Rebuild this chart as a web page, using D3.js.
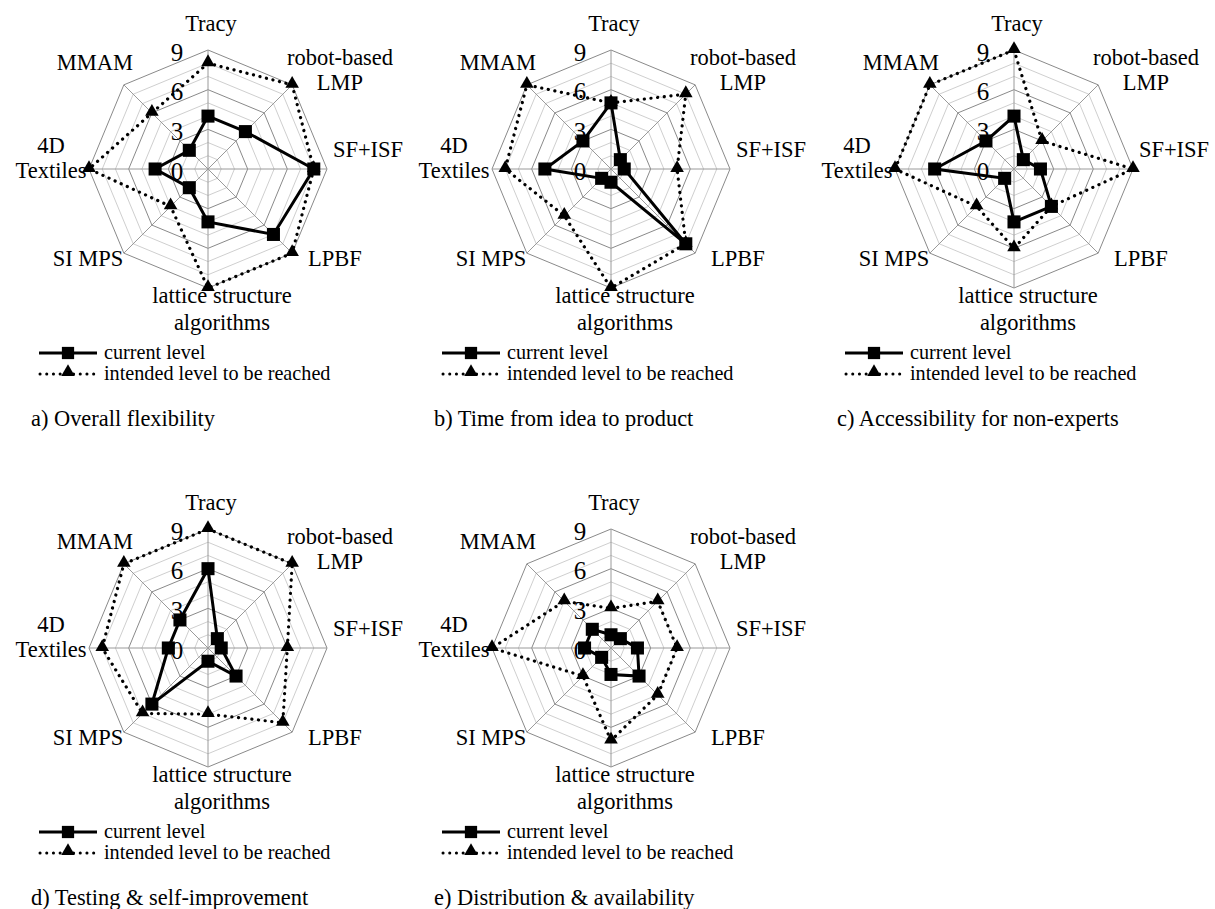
<!DOCTYPE html>
<html><head><meta charset="utf-8">
<script src="https://cdn.jsdelivr.net/npm/d3@7"></script>
<style>body{margin:0;background:#fff}</style>
</head><body><svg id="c" width="1215" height="909"></svg>
<script>
const categories = ["Tracy", "robot-based LMP", "SF+ISF", "LPBF", "lattice structure algorithms", "SI MPS", "4D Textiles", "MMAM"];
const categoryLines = [["Tracy"], ["robot-based", "LMP"], ["SF+ISF"], ["LPBF"], ["lattice structure", "algorithms"], ["SI MPS"], ["4D", "Textiles"], ["MMAM"]];
const tickValues = [0, 3, 6, 9];
const seriesNames = ["current level", "intended level to be reached"];
const panelTitles = ["a) Overall flexibility", "b) Time from idea to product", "c) Accessibility for non-experts", "d) Testing & self-improvement", "e) Distribution & availability"];
const currentA = [4, 4, 8, 7, 4, 2, 4, 2];
const intendedA = [8, 9, 8, 9, 9, 4, 9, 6];
const currentB = [5, 1, 1, 8, 1, 1, 5, 3];
const intendedB = [5, 8, 5, 8, 9, 5, 8, 9];
const currentC = [4, 1, 2, 4, 4, 1, 6, 3];
const intendedC = [9, 3, 9, 4, 6, 4, 9, 9];
const currentD = [6, 1, 1, 3, 1, 6, 3, 3];
const intendedD = [9, 9, 6, 8, 5, 7, 8, 9];
const currentE = [1, 1, 2, 3, 2, 1, 2, 2];
const intendedE = [3, 5, 5, 5, 7, 3, 9, 5];

const panels = [
  {title: panelTitles[0], current: currentA, intended: intendedA, col: 0, row: 0},
  {title: panelTitles[1], current: currentB, intended: intendedB, col: 1, row: 0},
  {title: panelTitles[2], current: currentC, intended: intendedC, col: 2, row: 0},
  {title: panelTitles[3], current: currentD, intended: intendedD, col: 0, row: 1},
  {title: panelTitles[4], current: currentE, intended: intendedE, col: 1, row: 1}
];

// layout
const FONT = "'Liberation Serif', 'Times New Roman', serif";
const colStep = 403, rowStep = 479;
const R = 119;
const labelOffsets = [
  {dx: 3, dy: [-146]},
  {dx: 132, dy: [-112, -87]},
  {dx: 160, dy: [-20]},
  {dx: 127, dy: [89]},
  {dx: 14, dy: [126, 153]},
  {dx: -120, dy: [89]},
  {dx: -157, dy: [-24, 1]},
  {dx: -113, dy: [-107]}
];

const svg = d3.select("#c");
const r = d3.scaleLinear().domain([0, 9]).range([0, R]);
const angle = d3.scaleLinear().domain([0, categories.length]).range([0, 2 * Math.PI]);
const pt = (v, i) => [r(v) * Math.sin(angle(i)), -r(v) * Math.cos(angle(i))];
const lineGen = d3.line().curve(d3.curveLinearClosed);
const sq = d3.symbol().type(d3.symbolSquare).size(170)();
const tri = d3.symbol().type(d3.symbolTriangle).size(80)();

panels.forEach(p => {
  const ox = p.col * colStep, oy = p.row * rowStep;
  const g = svg.append("g").attr("transform", `translate(${ox + 208},${oy + 169})`);

  // rings
  d3.range(1, 10).forEach(k => {
    const ring = categories.map((c, i) => pt(k, i));
    g.append("path").attr("d", lineGen(ring)).attr("fill", "none")
      .attr("stroke", k % 3 === 0 ? "#8a8a8a" : "#cfcfcf").attr("stroke-width", 1);
  });
  // spokes
  categories.forEach((c, i) => {
    const [x, y] = pt(9, i);
    g.append("line").attr("x1", 0).attr("y1", 0).attr("x2", x).attr("y2", y)
      .attr("stroke", "#9a9a9a").attr("stroke-width", 1);
  });
  // tick labels
  tickValues.forEach(t => {
    g.append("text").attr("x", -31).attr("y", -r(t) + 2)
      .attr("text-anchor", "middle").attr("dominant-baseline", "central")
      .attr("font-family", FONT).attr("font-size", 25).attr("fill", "#000").text(t);
  });
  // category labels
  categoryLines.forEach((lines, i) => {
    const o = labelOffsets[i];
    lines.forEach((ln, j) => {
      g.append("text").attr("x", o.dx).attr("y", o.dy[j])
        .attr("text-anchor", "middle").attr("dominant-baseline", "central")
        .attr("font-family", FONT).attr("font-size", 22.5).attr("fill", "#000").text(ln);
    });
  });

  // intended series (drawn first)
  const ip = p.intended.map(pt);
  g.append("path").attr("d", lineGen(ip)).attr("fill", "none").attr("stroke", "#000")
    .attr("stroke-width", 3.2).attr("stroke-dasharray", "0.1 6.6").attr("stroke-linecap", "round");
  ip.forEach(([x, y]) => g.append("path").attr("d", tri).attr("transform", `translate(${x},${y - 1})`).attr("fill", "#000"));

  // current series
  const cp = p.current.map(pt);
  g.append("path").attr("d", lineGen(cp)).attr("fill", "none").attr("stroke", "#000")
    .attr("stroke-width", 3).attr("stroke-linejoin", "miter");
  cp.forEach(([x, y]) => g.append("path").attr("d", sq).attr("transform", `translate(${x},${y})`).attr("fill", "#000"));

  // legend
  const lg = svg.append("g").attr("transform", `translate(${ox},${oy})`);
  lg.append("line").attr("x1", 39).attr("x2", 97).attr("y1", 353).attr("y2", 353).attr("stroke", "#000").attr("stroke-width", 3);
  lg.append("path").attr("d", d3.symbol().type(d3.symbolSquare).size(150)()).attr("transform", "translate(68,353)").attr("fill", "#000");
  lg.append("line").attr("x1", 40).attr("x2", 97).attr("y1", 374).attr("y2", 374).attr("stroke", "#000")
    .attr("stroke-width", 3).attr("stroke-dasharray", "0.1 6.6").attr("stroke-linecap", "round");
  lg.append("path").attr("d", tri).attr("transform", "translate(68,372)").attr("fill", "#000");
  seriesNames.forEach((s, i) => {
    lg.append("text").attr("x", 104).attr("y", 352 + i * 21).attr("dominant-baseline", "central")
      .attr("font-family", FONT).attr("font-size", 20.2).attr("fill", "#000").text(s);
  });
  lg.append("text").attr("x", 31).attr("y", 418).attr("dominant-baseline", "central")
    .attr("font-family", FONT).attr("font-size", 22.4).attr("fill", "#000").text(p.title);
});
</script>
</body></html>
